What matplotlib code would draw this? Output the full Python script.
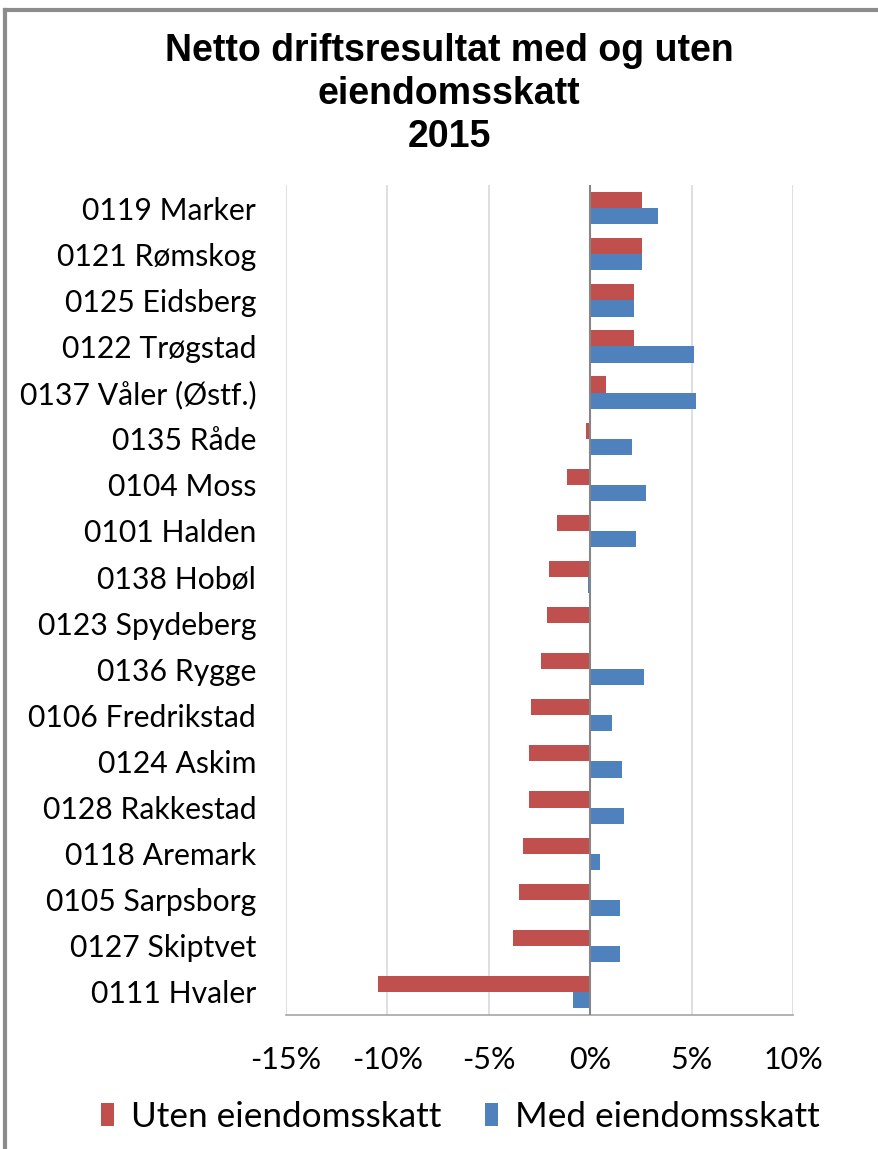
import numpy as np
import matplotlib.pyplot as plt
from matplotlib.lines import Line2D
from matplotlib.ticker import FuncFormatter

kommuner = ["0119 Marker", "0121 Rømskog", "0125 Eidsberg", "0122 Trøgstad",
            "0137 Våler (Østf.)", "0135 Råde", "0104 Moss", "0101 Halden",
            "0138 Hobøl", "0123 Spydeberg", "0136 Rygge", "0106 Fredrikstad",
            "0124 Askim", "0128 Rakkestad", "0118 Aremark", "0105 Sarpsborg",
            "0127 Skiptvet", "0111 Hvaler"]
uten_skatt = [2.55, 2.55, 2.15, 2.15, 0.76, -0.23, -1.13, -1.63, -2.02, -2.12,
              -2.42, -2.92, -3.02, -3.02, -3.32, -3.52, -3.82, -10.48]
med_skatt = [3.35, 2.55, 2.15, 5.14, 5.24, 2.05, 2.75, 2.25, -0.13, 0.0,
             2.65, 1.06, 1.56, 1.66, 0.46, 1.46, 1.46, -0.83]

red = "#c0504d"
blue = "#4f81bd"
font = "Lato"

fig = plt.figure(figsize=(8.79, 11.49), dpi=100)
ax = fig.add_axes([0.3254, 0.1166, 0.5768, 0.7223])

n = len(kommuner)
y = np.arange(n)[::-1]
h = 0.35
ax.barh(y + h / 2, uten_skatt, h, color=red, label="Uten eiendomsskatt", zorder=3)
ax.barh(y - h / 2, med_skatt, h, color=blue, label="Med eiendomsskatt", zorder=3)

ax.set_xlim(-15, 10)
ax.set_ylim(-0.5, n - 0.5)
ax.set_xticks([-15, -10, -5, 0, 5, 10])
ax.xaxis.set_major_formatter(FuncFormatter(lambda v, p: f"{v:.0f}%"))
ax.set_yticks(y)
ax.set_yticklabels(kommuner, fontsize=21.7, family=font)
for t in ax.get_xticklabels():
    t.set_fontsize(22)
    t.set_family(font)
ax.tick_params(axis="both", length=0)
ax.tick_params(axis="y", pad=21.5)
ax.tick_params(axis="x", pad=22)

ax.grid(axis="x", color="#d9d9d9", linewidth=1.2, zorder=0)
ax.axvline(0, color="#868686", linewidth=1.5, zorder=4)
for s in ["top", "right", "left"]:
    ax.spines[s].set_visible(False)
ax.spines["bottom"].set_color("#a6a6a6")
ax.spines["bottom"].set_linewidth(1.2)

fig.text(0.511, 0.971, "Netto driftsresultat med og uten\neiendomsskatt\n2015",
         ha="center", va="top", fontsize=27, fontweight="bold",
         family="Liberation Sans", linespacing=1.24)

leg = fig.legend(loc="center", bbox_to_anchor=(0.524, 0.028), ncol=2, frameon=False,
                 prop={"family": font, "size": 25.3}, handlelength=0.35,
                 handleheight=0.6, handletextpad=0.5, columnspacing=1.25)

# partial frame around the chart
fig.add_artist(Line2D([5 / 879, 5 / 879], [0, 1 - 10 / 1149], transform=fig.transFigure,
                      color="#8c8c8c", linewidth=3))
fig.add_artist(Line2D([5 / 879, 1], [1 - 10 / 1149, 1 - 10 / 1149], transform=fig.transFigure,
                      color="#8c8c8c", linewidth=3))

fig.savefig("out.png", dpi=100)
